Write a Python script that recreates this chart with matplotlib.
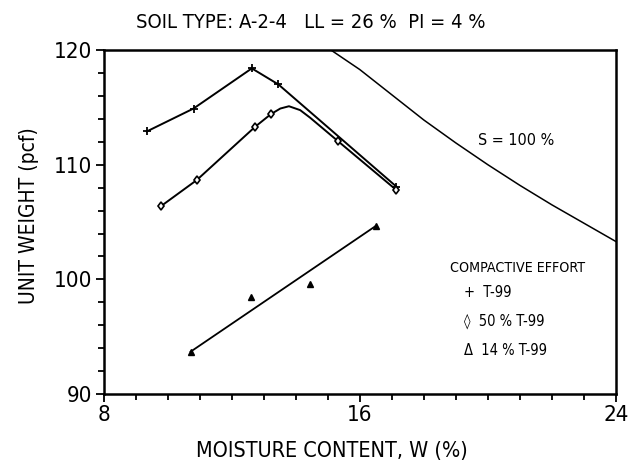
import matplotlib
matplotlib.use("Agg")
import matplotlib.pyplot as plt
from matplotlib.ticker import MultipleLocator

plt.rcParams['font.family'] = ['DejaVu Sans']
plt.rcParams['font.stretch'] = 'condensed'

# T-99 compaction points
t99_w = [9.35, 10.81, 12.63, 13.46, 17.14]
t99_g = [112.9, 114.9, 118.4, 117.0, 108.1]

# 50 % T-99 points and fitted curve
p50_w = [9.80, 10.91, 12.73, 13.22, 15.31, 17.14]
p50_g = [106.4, 108.66, 113.3, 114.4, 112.08, 107.8]
p50_curve_w = [9.80, 10.91, 12.73, 13.22, 13.52, 13.79, 14.14, 14.45, 15.31, 17.14]
p50_curve_g = [106.4, 108.66, 113.3, 114.4, 114.9, 115.1, 114.76, 114.1, 112.08, 107.8]

# 14 % T-99 points and fitted line
p14_w = [10.72, 12.60, 14.45, 16.52]
p14_g = [93.7, 98.5, 99.56, 104.7]
p14_line_w = [10.72, 16.52]
p14_line_g = [93.7, 104.7]

# Zero air voids (S = 100 %) curve
sat_w = [15.1, 16.0, 17.0, 18.0, 19.0, 20.0, 21.0, 22.0, 23.0, 24.0]
sat_g = [120.0, 118.3, 116.1, 113.9, 111.9, 110.0, 108.2, 106.5, 104.9, 103.3]

legend_title = 'COMPACTIVE EFFORT'
legend_labels = ['+  T-99', '\u25CA  50 % T-99', '\u0394  14 % T-99']

fig = plt.figure(figsize=(6.39, 4.72), dpi=100)
ax = fig.add_axes([0.162, 0.165, 0.802, 0.729])

lc = 'black'
ax.plot(t99_w, t99_g, color=lc, lw=1.4, marker='+', ms=6, mew=1.3)
ax.plot(p50_curve_w, p50_curve_g, color=lc, lw=1.4)
ax.plot(p50_w, p50_g, ls='none', marker='d', ms=4.5, mfc='white', mec=lc, mew=1.2)
ax.plot(p14_line_w, p14_line_g, color=lc, lw=1.3)
ax.plot(p14_w, p14_g, ls='none', marker='^', ms=4.5, mfc=lc, mec=lc)
ax.plot(sat_w, sat_g, color=lc, lw=1.1)

ax.set_xlim(8, 24)
ax.set_ylim(90, 120)
ax.xaxis.set_major_locator(MultipleLocator(8))
ax.xaxis.set_minor_locator(MultipleLocator(1))
ax.yaxis.set_major_locator(MultipleLocator(10))
ax.yaxis.set_minor_locator(MultipleLocator(2))
ax.tick_params(which='both', direction='out', width=1.3, top=False, right=False)
ax.tick_params(which='major', length=6, labelsize=16, pad=2)
ax.tick_params(which='minor', length=4)
for s in ax.spines.values():
    s.set_linewidth(1.8)

ax.set_xlabel('MOISTURE CONTENT, W (%)', fontsize=15.5, labelpad=10)
ax.xaxis.set_label_coords(0.445, -0.135)
ax.set_ylabel('UNIT WEIGHT (pcf)', fontsize=15, labelpad=9)
ax.yaxis.set_label_coords(-0.125, 0.52)
fig.text(0.487, 0.953, 'SOIL TYPE: A-2-4   LL = 26 %  PI = 4 %', fontsize=14.5,
         ha='center', va='center')

ax.text(19.7, 112.1, 'S = 100 %', fontsize=11.5, ha='left', va='center')
ax.text(18.83, 100.98, legend_title, fontsize=10.2, ha='left', va='center')
for lab, gy in zip(legend_labels, [98.9, 96.36, 93.84]):
    ax.text(19.25, gy, lab, fontsize=10.5, ha='left', va='center')

fig.savefig('out.png', dpi=100)
